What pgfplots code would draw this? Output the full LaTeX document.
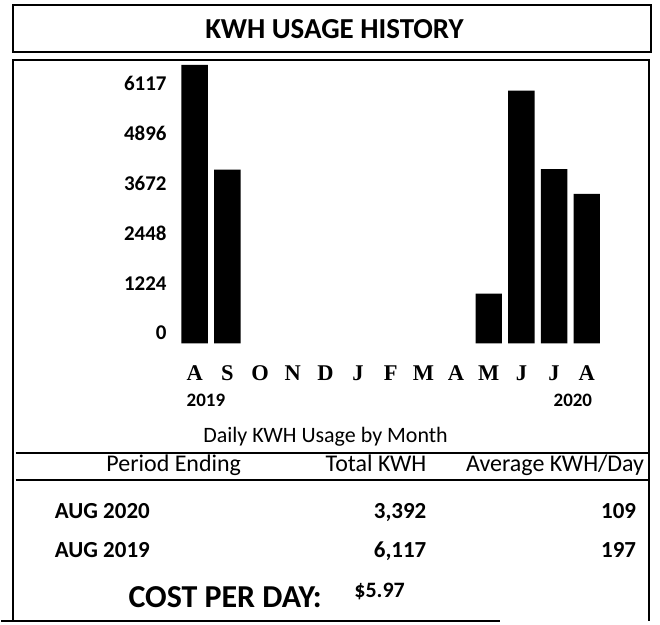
\documentclass[border=0pt]{standalone}
\usepackage{pgfplots}
\pgfplotsset{compat=1.18}
\usepackage{fontspec}
\setmainfont{Carlito}
\newfontfamily\serifb{Liberation Serif}
\newcommand{\fs}[1]{\fontsize{#1bp}{#1bp}\selectfont}
\begin{document}
\begin{tikzpicture}
\fill[white] (0,0) rectangle (660bp,625bp);
\begin{axis}[
  at={(177.6bp,281bp)}, anchor=south west,
  scale only axis, width=425.4bp, height=284bp,
  xmin=-0.5, xmax=12.5, ymin=0, ymax=6952,
  enlargelimits=false,
  axis line style={draw=none}, tick style={draw=none},
  ybar, bar width=26.5bp,
  xtick={0,...,12},
  xticklabels={A,S,O,N,D,J,F,M,A,M,J,J,A},
  xticklabel style={font=\serifb\bfseries\fs{22.5}, anchor=base, inner sep=0pt, yshift=-32.7bp},
  ytick={0,1224,2448,3672,4896,6117},
  yticklabels={0,1224,2448,3672,4896,6117},
  yticklabel style={font=\bfseries\fs{21}, anchor=base east, inner sep=0pt, xshift=-11.6bp, yshift=3.5bp},
]
\addplot[fill=black, draw=none] coordinates {(0,6830) (1,4260) (9,1224) (10,6201) (11,4277) (12,3665)};
\end{axis}
\begin{scope}[x=1bp,y=-1bp,yshift=625bp, line width=2bp]
  % title box
  \draw (11.7,5) rectangle (651,51.7);
  \node[anchor=base, inner sep=0pt, font=\bfseries\fs{29}] at (334,38.3) {KWH USAGE HISTORY};
  % main frame
  \draw (11.7,622) -- (11.7,60) -- (649,60) -- (649,622);
  \draw (15,453.3) -- (649,453.3);
  \draw (15,480.7) -- (649,480.7);
  \draw (0,622) -- (500,622);
  % year labels
  \node[anchor=base west, inner sep=0pt, font=\bfseries\fs{19}] at (185,406.7) {2019};
  \node[anchor=base east, inner sep=0pt, font=\bfseries\fs{19}] at (593,406.7) {2020};
  \node[anchor=base, inner sep=0pt, font=\fs{22}] at (325,443) {Daily KWH Usage by Month};
  % table header
  \node[anchor=base, inner sep=0pt, font=\fs{24}] at (173,472) {Period Ending};
  \node[anchor=base east, inner sep=0pt, font=\fs{24}] at (427,472) {Total KWH};
  \node[anchor=base east, inner sep=0pt, font=\fs{24}] at (645,472) {Average KWH/Day};
  % rows
  \node[anchor=base west, inner sep=0pt, font=\bfseries\fs{23}] at (53,519) {AUG 2020};
  \node[anchor=base east, inner sep=0pt, font=\bfseries\fs{23}] at (427,519) {3,392};
  \node[anchor=base east, inner sep=0pt, font=\bfseries\fs{23}] at (637,519) {109};
  \node[anchor=base west, inner sep=0pt, font=\bfseries\fs{23}] at (53,558) {AUG 2019};
  \node[anchor=base east, inner sep=0pt, font=\bfseries\fs{23}] at (427,558) {6,117};
  \node[anchor=base east, inner sep=0pt, font=\bfseries\fs{23}] at (637,558) {197};
  \node[anchor=base west, inner sep=0pt, font=\bfseries\fs{32}] at (126.7,608) {COST PER DAY:};
  \node[anchor=base west, inner sep=0pt, font=\bfseries\fs{22}] at (353,598) {\$5.97};
\end{scope}
\path[use as bounding box] (0,0) rectangle (660bp,625bp);
\end{tikzpicture}
\end{document}
